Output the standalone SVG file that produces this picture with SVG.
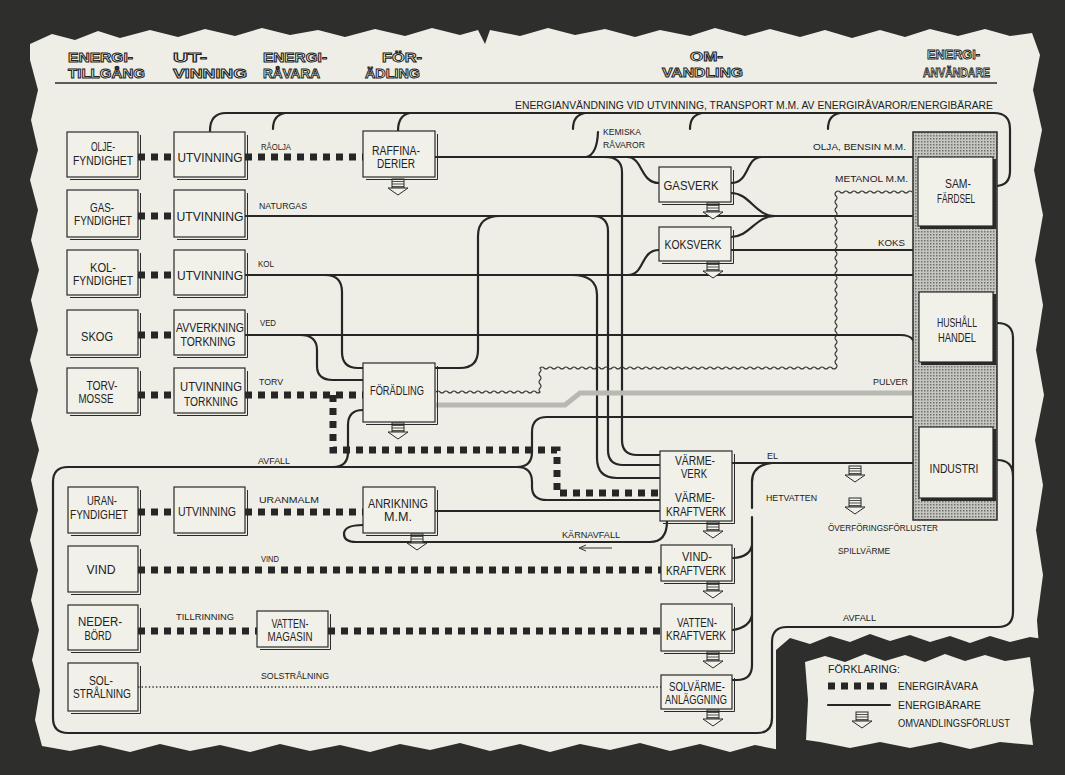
<svg xmlns="http://www.w3.org/2000/svg" xmlns:xlink="http://www.w3.org/1999/xlink" width="1065" height="775" viewBox="0 0 1065 775">
<style>
.paper{fill:#eeeee6}
.dark{fill:#2e2e2c}
.box rect{fill:#f1f1ea;stroke:#2a2a2a;stroke-width:1.2}
.sh{fill:none;stroke:#2a2a2a;stroke-width:1}
.raw{fill:none;stroke:#262626;stroke-width:7;stroke-dasharray:7 6}
.car{fill:none;stroke:#262626;stroke-width:2.2;stroke-linecap:round}
.wav{fill:none;stroke:#333;stroke-width:1.1}
.pul{fill:none;stroke:#b9b9b4;stroke-width:5}
.sun{fill:none;stroke:#333;stroke-width:1.3;stroke-dasharray:1.4 2.2}
text{font-family:"Liberation Sans",Arial,sans-serif;fill:#222}
.bt{font-size:12px;text-anchor:middle}
.sm{font-size:10px}
.lb{font-size:9px}
.hd{font-size:13px;font-weight:bold;fill:#f4f4ec;stroke:#222;stroke-width:0.9}
.ush{fill:none;stroke:#2a2a2a;stroke-width:3}
</style>
<defs>
<pattern id="stip" width="3" height="3" patternUnits="userSpaceOnUse"><rect width="3" height="3" fill="#c6c6c0"/><rect width="1.5" height="1.5" fill="#707070"/></pattern>
<g id="loss"><rect x="-6" y="0" width="12" height="9" fill="#f1f1ea" stroke="#2a2a2a" stroke-width="1"/><path d="M-6,2.5H6M-6,5H6M-6,7.5H6" stroke="#2a2a2a" stroke-width="0.8"/><polygon points="-10,9 10,9 0,16" fill="#f1f1ea" stroke="#2a2a2a" stroke-width="1"/></g>
</defs>

<rect class="dark" width="1065" height="775"/>
<polygon class="paper" points="30,44 52,34 75,40 98,31 120,38 150,30 178,37 205,29 235,36 262,28 290,35 318,30 345,37 375,29 405,36 432,28 460,35 478,30 485,44 490,30 520,36 548,28 575,35 605,29 635,37 660,30 690,36 715,28 745,36 770,29 800,37 825,30 852,38 880,30 905,37 930,29 958,36 985,29 1010,36 1032,33 1040,55 1033,90 1042,130 1034,170 1043,215 1035,260 1043,305 1036,350 1044,395 1035,440 1043,485 1036,530 1043,575 1037,620 1040,660 1042,700 1040,760 1000,758 960,752 900,758 820,752 780,750 755,745 730,752 700,744 670,751 640,743 610,750 580,744 550,752 520,744 490,751 460,743 430,750 400,744 370,752 340,745 310,751 280,744 250,752 220,745 190,751 160,744 130,752 100,745 70,751 42,746 35,720 40,690 32,660 39,630 31,600 38,570 30,540 38,510 31,480 39,450 31,420 38,390 30,360 38,330 31,300 39,270 31,240 38,210 30,180 38,150 31,120 38,90 30,60"/>
<polygon class="dark" points="776,775 776,650 790,638 810,644 830,636 850,642 870,634 890,641 910,635 930,642 950,636 970,643 990,636 1010,642 1030,637 1050,640 1065,640 1065,775"/>
<polygon class="paper" points="806,740 808,700 805,662 825,656 845,662 865,654 885,661 905,655 925,662 945,654 965,661 985,655 1005,661 1030,657 1034,690 1030,720 1033,745 1000,742 970,749 940,742 910,748 880,742 850,748 820,742"/>

<g id="headers">
<text class="hd" x="68" y="62" textLength="65" lengthAdjust="spacingAndGlyphs">ENERGI-</text>
<text class="hd" x="68" y="78" textLength="77" lengthAdjust="spacingAndGlyphs">TILLGÅNG</text>
<text class="hd" x="173" y="62" textLength="34" lengthAdjust="spacingAndGlyphs">UT-</text>
<text class="hd" x="173" y="78" textLength="74" lengthAdjust="spacingAndGlyphs">VINNING</text>
<text class="hd" x="263" y="62" textLength="64" lengthAdjust="spacingAndGlyphs">ENERGI-</text>
<text class="hd" x="263" y="78" textLength="57" lengthAdjust="spacingAndGlyphs">RÅVARA</text>
<text class="hd" x="382" y="62" textLength="40" lengthAdjust="spacingAndGlyphs">FÖR-</text>
<text class="hd" x="365" y="78" textLength="55" lengthAdjust="spacingAndGlyphs">ÄDLING</text>
<text class="hd" x="690" y="61" textLength="33" lengthAdjust="spacingAndGlyphs">OM-</text>
<text class="hd" x="662" y="77" textLength="81" lengthAdjust="spacingAndGlyphs">VANDLING</text>
<text class="hd" x="927" y="59" textLength="53" lengthAdjust="spacingAndGlyphs">ENERGI-</text>
<text class="hd" x="923" y="77" textLength="67" lengthAdjust="spacingAndGlyphs">ANVÄNDARE</text>
<path d="M55,83H997" stroke="#2a2a2a" stroke-width="1.3"/>
<text class="sm" x="515" y="109" textLength="478" lengthAdjust="spacingAndGlyphs">ENERGIANVÄNDNING VID UTVINNING, TRANSPORT M.M. AV ENERGIRÅVAROR/ENERGIBÄRARE</text>
</g>

<g id="connectors">
<path class="raw" d="M138,157H174M245,157H363M138,216H174M138,275H174M138,335H174M138,395H174M245,395H363M333,395V450H557V493H660M138,512H174M245,512H363M138,570H661M138,631H257M328,631H661"/>
<path class="sun" d="M138,687H661"/>
<path class="car" d="M210,131Q210,113 226,113H994Q1010,113 1010,129V171Q1010,186 995,186"/>
<path class="car" d="M285,113Q273,115 273,129M410,113Q398,115 398,131M585,113Q573,115 573,129M702,113Q690,115 690,129M840,113Q828,115 828,129"/>
<path class="car" d="M435,157H913M586,157Q597,155 598,132"/>
<path class="car" d="M627,157C643,157 640,183 659,183M731,183C750,183 745,157 762,157M731,193C750,193 755,216 775,216M731,237C750,237 755,216 775,216M628,275C645,275 640,250 659,250M731,250H913"/>
<path class="car" d="M245,216H913M245,275H913M245,335H900Q910,335 913,340"/>
<path class="car" d="M605,157Q622,157 622,172V440Q622,455 637,455H660M592,216Q608,216 608,231V450Q608,465 623,465H660M572,275Q597,275 597,295V458Q597,478 617,478H660"/>
<path class="car" d="M500,216Q478,216 478,236V350Q478,368 460,368H435M325,275Q342,275 342,292V352Q342,368 358,368H363M300,335Q317,335 317,350V366Q317,380 333,380H363M363,410Q348,410 348,425V452Q348,467 333,467"/>
<path class="car" d="M997,323Q1013,323 1013,338V612Q1013,627 998,627H787Q772,627 772,642V718Q772,733 757,733H68Q53,733 53,718V482Q53,467 68,467H517Q532,467 532,452V432Q532,417 547,417H913M517,467Q532,467 532,482V487Q532,500 547,500H660M997,460Q1013,460 1013,476"/>
<path class="car" d="M435,511H660M363,525Q344,525 344,534Q344,542 356,542H650Q667,542 667,521"/>
<path d="M612,548H580M586,545L579,548L586,551" fill="none" stroke="#333" stroke-width="1"/>
<path class="car" d="M732,463H913M772,463Q752,465 752,482V508M752,517V665Q752,680 737,680H732M733,558Q750,557 752,545M733,630Q750,627 752,615"/>
<path class="pul" d="M436,405H565L580,393H913"/>
<path class="wav" d="M436,392q2,-2 4,0t4,0 t4,0 t4,0 t4,0 t4,0 t4,0 t4,0 t4,0 t4,0 t4,0 t4,0 t4,0 t4,0 t4,0 t4,0 t4,0 t4,0 t4,0 t4,0 t4,0 t4,0 t4,0 t4,0 t4,0 t4,0q-2,-2 0,-4t0,-4 t0,-4 t0,-4 t0,-4 t0,-4q2,-2 4,0t4,0 t4,0 t4,0 t4,0 t4,0 t4,0 t4,0 t4,0 t4,0 t4,0 t4,0 t4,0 t4,0 t4,0 t4,0 t4,0 t4,0 t4,0 t4,0 t4,0 t4,0 t4,0 t4,0 t4,0 t4,0 t4,0 t4,0 t4,0 t4,0 t4,0 t4,0 t4,0 t4,0 t4,0 t4,0 t4,0 t4,0 t4,0 t4,0 t4,0 t4,0 t4,0 t4,0 t4,0 t4,0 t4,0 t4,0 t4,0 t4,0 t4,0 t4,0 t4,0 t4,0 t4,0 t4,0 t4,0 t4,0 t4,0 t4,0 t4,0 t4,0 t4,0 t4,0 t4,0 t4,0 t4,0 t4,0 t4,0 t4,0 t4,0 t4,0 t4,0 t4,0q2,-2 0,-4t0,-4 t0,-4 t0,-4 t0,-4 t0,-4 t0,-4 t0,-4 t0,-4 t0,-4 t0,-4 t0,-4 t0,-4 t0,-4 t0,-4 t0,-4 t0,-4 t0,-4 t0,-4 t0,-4 t0,-4 t0,-4 t0,-4 t0,-4 t0,-4 t0,-4 t0,-4 t0,-4 t0,-4 t0,-4 t0,-4 t0,-4 t0,-4 t0,-4 t0,-4 t0,-4 t0,-4 t0,-4 t0,-4 t0,-4 t0,-4 t0,-4 t0,-4 t0,-4q2,-2 4,0t4,0 t4,0 t4,0 t4,0 t4,0 t4,0 t4,0 t4,0 t4,0 t4,0 t4,0 t4,0 t4,0 t4,0 t4,0 t4,0 t4,0 t4,0"/>
<text class="lb" x="261" y="150" font-size="8" textLength="30" lengthAdjust="spacingAndGlyphs">RÅOLJA</text>
<text class="lb" x="259" y="209" font-size="8" textLength="48" lengthAdjust="spacingAndGlyphs">NATURGAS</text>
<text class="lb" x="258" y="267" font-size="8" textLength="16" lengthAdjust="spacingAndGlyphs">KOL</text>
<text class="lb" x="260" y="326" font-size="8" textLength="16" lengthAdjust="spacingAndGlyphs">VED</text>
<text class="lb" x="259" y="385" font-size="8" textLength="24" lengthAdjust="spacingAndGlyphs">TORV</text>
<text class="lb" x="258" y="464" textLength="32" lengthAdjust="spacingAndGlyphs">AVFALL</text>
<text class="lb" x="259" y="503" textLength="60" lengthAdjust="spacingAndGlyphs">URANMALM</text>
<text class="lb" x="261" y="562" font-size="8" textLength="18" lengthAdjust="spacingAndGlyphs">VIND</text>
<text class="lb" x="176" y="620" font-size="8" textLength="58" lengthAdjust="spacingAndGlyphs">TILLRINNING</text>
<text class="lb" x="261" y="679" font-size="8" textLength="68" lengthAdjust="spacingAndGlyphs">SOLSTRÅLNING</text>
<text class="lb" x="603" y="135" textLength="38" lengthAdjust="spacingAndGlyphs">KEMISKA</text>
<text class="lb" x="603" y="148" textLength="42" lengthAdjust="spacingAndGlyphs">RÅVAROR</text>
<text class="lb" x="813" y="150" textLength="93" lengthAdjust="spacingAndGlyphs">OLJA, BENSIN M.M.</text>
<text class="lb" x="835" y="182" textLength="73" lengthAdjust="spacingAndGlyphs">METANOL M.M.</text>
<text class="lb" x="878" y="246" textLength="27" lengthAdjust="spacingAndGlyphs">KOKS</text>
<text class="lb" x="873" y="385" textLength="35" lengthAdjust="spacingAndGlyphs">PULVER</text>
<text class="lb" x="767" y="459" font-size="8" textLength="11" lengthAdjust="spacingAndGlyphs">EL</text>
<text class="lb" x="766" y="501" textLength="51" lengthAdjust="spacingAndGlyphs">HETVATTEN</text>
<text class="lb" x="828" y="531" textLength="110" lengthAdjust="spacingAndGlyphs">ÖVERFÖRINGSFÖRLUSTER</text>
<text class="lb" x="838" y="554" textLength="52" lengthAdjust="spacingAndGlyphs">SPILLVÄRME</text>
<text class="lb" x="843" y="621" textLength="33" lengthAdjust="spacingAndGlyphs">AVFALL</text>
<text class="lb" x="562" y="538" textLength="58" lengthAdjust="spacingAndGlyphs">KÄRNAVFALL</text>
<use xlink:href="#loss" x="398" y="179"/>
<use xlink:href="#loss" x="398" y="423"/>
<use xlink:href="#loss" x="417" y="534"/>
<use xlink:href="#loss" x="713" y="203"/>
<use xlink:href="#loss" x="713" y="262"/>
<use xlink:href="#loss" x="713" y="522"/>
<use xlink:href="#loss" x="713" y="582"/>
<use xlink:href="#loss" x="713" y="652"/>
<use xlink:href="#loss" x="713" y="710"/>
<use xlink:href="#loss" x="855" y="466"/>
<use xlink:href="#loss" x="855" y="498"/>
</g>

<g id="n-olje" class="box"><rect x="67" y="132" width="71" height="45"/><polyline class="sh" points="70,179.5 140.5,179.5 140.5,135"/><text class="bt" x="103" y="151" font-size="10" textLength="24" lengthAdjust="spacingAndGlyphs">OLJE-</text><text class="bt" x="103" y="165" font-size="10" textLength="60" lengthAdjust="spacingAndGlyphs">FYNDIGHET</text></g>
<g id="n-utv1" class="box"><rect x="174" y="132" width="71" height="45"/><polyline class="sh" points="177,179.5 247.5,179.5 247.5,135"/><text class="bt" x="210" y="162" font-size="13" textLength="65" lengthAdjust="spacingAndGlyphs">UTVINNING</text></g>
<g id="n-gas" class="box"><rect x="67" y="190" width="71" height="47"/><polyline class="sh" points="70,239.5 140.5,239.5 140.5,193"/><text class="bt" x="102" y="212" font-size="10" textLength="24" lengthAdjust="spacingAndGlyphs">GAS-</text><text class="bt" x="103" y="225" font-size="10" textLength="58" lengthAdjust="spacingAndGlyphs">FYNDIGHET</text></g>
<g id="n-utv2" class="box"><rect x="174" y="190" width="71" height="47"/><polyline class="sh" points="177,239.5 247.5,239.5 247.5,193"/><text class="bt" x="210" y="221" font-size="13" textLength="67" lengthAdjust="spacingAndGlyphs">UTVINNING</text></g>
<g id="n-kol" class="box"><rect x="67" y="250" width="71" height="45"/><polyline class="sh" points="70,297.5 140.5,297.5 140.5,253"/><text class="bt" x="103" y="272" font-size="10" textLength="26" lengthAdjust="spacingAndGlyphs">KOL-</text><text class="bt" x="103" y="285" font-size="10" textLength="60" lengthAdjust="spacingAndGlyphs">FYNDIGHET</text></g>
<g id="n-utv3" class="box"><rect x="174" y="250" width="71" height="45"/><polyline class="sh" points="177,297.5 247.5,297.5 247.5,253"/><text class="bt" x="210" y="280" font-size="13" textLength="66" lengthAdjust="spacingAndGlyphs">UTVINNING</text></g>
<g id="n-skog" class="box"><rect x="67" y="310" width="71" height="45"/><polyline class="sh" points="70,357.5 140.5,357.5 140.5,313"/><text class="bt" x="97" y="341" font-size="14" textLength="32" lengthAdjust="spacingAndGlyphs">SKOG</text></g>
<g id="n-avv" class="box"><rect x="174" y="310" width="71" height="45"/><polyline class="sh" points="177,357.5 247.5,357.5 247.5,313"/><text class="bt" x="210" y="332" textLength="68" lengthAdjust="spacingAndGlyphs">AVVERKNING</text><text class="bt" x="208" y="346" textLength="55" lengthAdjust="spacingAndGlyphs">TORKNING</text></g>
<g id="n-torv" class="box"><rect x="67" y="368" width="71" height="45"/><polyline class="sh" points="70,415.5 140.5,415.5 140.5,371"/><text class="bt" x="102" y="390" font-size="11" textLength="31" lengthAdjust="spacingAndGlyphs">TORV-</text><text class="bt" x="96" y="403" font-size="11" textLength="35" lengthAdjust="spacingAndGlyphs">MOSSE</text></g>
<g id="n-utv5" class="box"><rect x="174" y="368" width="71" height="45"/><polyline class="sh" points="177,415.5 247.5,415.5 247.5,371"/><text class="bt" x="211" y="391" textLength="62" lengthAdjust="spacingAndGlyphs">UTVINNING</text><text class="bt" x="211" y="406" textLength="54" lengthAdjust="spacingAndGlyphs">TORKNING</text></g>
<g id="n-raff" class="box"><rect x="363" y="131" width="72" height="46"/><polyline class="sh" points="366,179.5 437.5,179.5 437.5,134"/><text class="bt" x="396" y="155" font-size="11" textLength="48" lengthAdjust="spacingAndGlyphs">RAFFINA-</text><text class="bt" x="396" y="168" font-size="11" textLength="38" lengthAdjust="spacingAndGlyphs">DERIER</text></g>
<g id="n-foradling" class="box"><rect x="363" y="363" width="72" height="59"/><polyline class="sh" points="366,424.5 437.5,424.5 437.5,366"/><text class="bt" x="397" y="395" textLength="54" lengthAdjust="spacingAndGlyphs">FÖRÄDLING</text></g>
<g id="n-uran" class="box"><rect x="68" y="487" width="70" height="46"/><polyline class="sh" points="71,535.5 140.5,535.5 140.5,490"/><text class="bt" x="102" y="505" font-size="10" textLength="30" lengthAdjust="spacingAndGlyphs">URAN-</text><text class="bt" x="99" y="519" font-size="10" textLength="58" lengthAdjust="spacingAndGlyphs">FYNDIGHET</text></g>
<g id="n-utv6" class="box"><rect x="174" y="487" width="71" height="46"/><polyline class="sh" points="177,535.5 247.5,535.5 247.5,490"/><text class="bt" x="207" y="516" textLength="58" lengthAdjust="spacingAndGlyphs">UTVINNING</text></g>
<g id="n-anrikning" class="box"><rect x="363" y="487" width="72" height="46"/><polyline class="sh" points="366,535.5 437.5,535.5 437.5,490"/><text class="bt" x="398" y="508" textLength="60" lengthAdjust="spacingAndGlyphs">ANRIKNING</text><text class="bt" x="398" y="521" textLength="28" lengthAdjust="spacingAndGlyphs">M.M.</text></g>
<g id="n-vind" class="box"><rect x="68" y="546" width="70" height="46"/><polyline class="sh" points="71,594.5 140.5,594.5 140.5,549"/><text class="bt" x="101" y="574" font-size="13" textLength="29" lengthAdjust="spacingAndGlyphs">VIND</text></g>
<g id="n-nederbord" class="box"><rect x="68" y="605" width="70" height="45"/><polyline class="sh" points="71,652.5 140.5,652.5 140.5,608"/><text class="bt" x="100" y="626" textLength="44" lengthAdjust="spacingAndGlyphs">NEDER-</text><text class="bt" x="98" y="640" textLength="27" lengthAdjust="spacingAndGlyphs">BÖRD</text></g>
<g id="n-vattenmagasin" class="box"><rect x="257" y="611" width="71" height="36"/><polyline class="sh" points="260,649.5 330.5,649.5 330.5,614"/><text class="bt" x="290" y="628" font-size="10" textLength="37" lengthAdjust="spacingAndGlyphs">VATTEN-</text><text class="bt" x="290" y="641" font-size="10" textLength="45" lengthAdjust="spacingAndGlyphs">MAGASIN</text></g>
<g id="n-sol" class="box"><rect x="68" y="663" width="70" height="48"/><polyline class="sh" points="71,713.5 140.5,713.5 140.5,666"/><text class="bt" x="101" y="685" font-size="11" textLength="24" lengthAdjust="spacingAndGlyphs">SOL-</text><text class="bt" x="102" y="698" font-size="11" textLength="58" lengthAdjust="spacingAndGlyphs">STRÅLNING</text></g>
<g id="n-gasverk" class="box"><rect x="659" y="167" width="72" height="35"/><polyline class="sh" points="662,204.5 733.5,204.5 733.5,170"/><text class="bt" x="691" y="190" font-size="13" textLength="55" lengthAdjust="spacingAndGlyphs">GASVERK</text></g>
<g id="n-koksverk" class="box"><rect x="659" y="227" width="72" height="34"/><polyline class="sh" points="662,263.5 733.5,263.5 733.5,230"/><text class="bt" x="693" y="249" font-size="13" textLength="57" lengthAdjust="spacingAndGlyphs">KOKSVERK</text></g>
<g id="n-varmeverk" class="box"><rect x="660" y="451" width="72" height="70"/><polyline class="sh" points="663,523.5 734.5,523.5 734.5,454"/><text class="bt" x="695" y="465" font-size="10" textLength="40" lengthAdjust="spacingAndGlyphs">VÄRME-</text><text class="bt" x="694" y="478" font-size="10" textLength="26" lengthAdjust="spacingAndGlyphs">VERK</text><text class="bt" x="695" y="502" font-size="11" textLength="40" lengthAdjust="spacingAndGlyphs">VÄRME-</text><text class="bt" x="696" y="516" textLength="60" lengthAdjust="spacingAndGlyphs">KRAFTVERK</text></g>
<g id="n-vindkraftverk" class="box"><rect x="661" y="545" width="71" height="36"/><polyline class="sh" points="664,583.5 734.5,583.5 734.5,548"/><text class="bt" x="697" y="561" font-size="11" textLength="30" lengthAdjust="spacingAndGlyphs">VIND-</text><text class="bt" x="696" y="575" textLength="60" lengthAdjust="spacingAndGlyphs">KRAFTVERK</text></g>
<g id="n-vattenkraftverk" class="box"><rect x="661" y="604" width="71" height="47"/><polyline class="sh" points="664,653.5 734.5,653.5 734.5,607"/><text class="bt" x="697" y="627" font-size="11" textLength="40" lengthAdjust="spacingAndGlyphs">VATTEN-</text><text class="bt" x="696" y="640" textLength="60" lengthAdjust="spacingAndGlyphs">KRAFTVERK</text></g>
<g id="n-solvarme" class="box"><rect x="661" y="675" width="71" height="34"/><polyline class="sh" points="664,711.5 734.5,711.5 734.5,678"/><text class="bt" x="697" y="691" font-size="11" textLength="56" lengthAdjust="spacingAndGlyphs">SOLVÄRME-</text><text class="bt" x="696" y="704" font-size="11" textLength="62" lengthAdjust="spacingAndGlyphs">ANLÄGGNING</text></g>

<g id="n-anvandare">
<rect x="913" y="132" width="84" height="388" fill="url(#stip)" stroke="#2a2a2a" stroke-width="1.5"/>
</g>
<g id="n-samfardsel" class="box"><rect x="918" y="157" width="75" height="69"/><polyline class="ush" points="920,227.5 994.5,227.5 994.5,159"/><text class="bt" x="958" y="188" textLength="26" lengthAdjust="spacingAndGlyphs">SAM-</text><text class="bt" x="956" y="203" textLength="38" lengthAdjust="spacingAndGlyphs">FÄRDSEL</text></g>
<g id="n-hushall" class="box"><rect x="919" y="292" width="74" height="70"/><polyline class="ush" points="921,363.5 994.5,363.5 994.5,294"/><text class="bt" x="957" y="327" textLength="40" lengthAdjust="spacingAndGlyphs">HUSHÅLL</text><text class="bt" x="957" y="342" textLength="38" lengthAdjust="spacingAndGlyphs">HANDEL</text></g>
<g id="n-industri" class="box"><rect x="919" y="427" width="74" height="71"/><polyline class="ush" points="921,499.5 994.5,499.5 994.5,429"/><text class="bt" x="954" y="473" textLength="49" lengthAdjust="spacingAndGlyphs">INDUSTRI</text></g>

<g id="legend">
<text class="sm" x="828" y="673" textLength="72" lengthAdjust="spacingAndGlyphs">FÖRKLARING:</text>
<path class="raw" d="M828,686H892"/>
<text class="sm" x="898" y="690" textLength="80" lengthAdjust="spacingAndGlyphs">ENERGIRÅVARA</text>
<path class="car" d="M828,705H890"/>
<text class="sm" x="898" y="709" textLength="83" lengthAdjust="spacingAndGlyphs">ENERGIBÄRARE</text>
<use xlink:href="#loss" x="862" y="712"/>
<text class="sm" x="898" y="727" textLength="112" lengthAdjust="spacingAndGlyphs">OMVANDLINGSFÖRLUST</text>
</g>
</svg>
